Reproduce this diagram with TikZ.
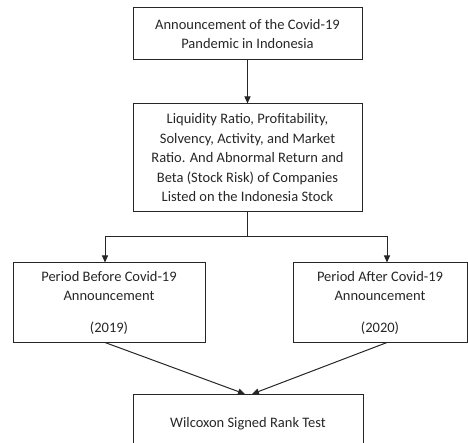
\documentclass[tikz,border=0pt]{standalone}
\usepackage{fontspec}
\setmainfont{Carlito}
\usetikzlibrary{arrows.meta}
\definecolor{ink}{HTML}{262626}
\begin{document}
\begin{tikzpicture}[x=1pt,y=-1pt,
  box/.style={draw=ink, line width=1pt, text=ink, align=center, inner sep=0pt,
    font=\fontsize{14.5}{19.5}\selectfont},
  arr/.style={draw=ink, line width=1pt, -{Triangle[length=7pt,width=6pt]}}]
\useasboundingbox (0,0) rectangle (468,443);
\clip (0,0) rectangle (468,443);
\node[box, minimum width=229pt, minimum height=52pt] (top) at (247.5,34)
  {Announcement of the Covid-19\\Pandemic in Indonesia};
\node[box, minimum width=229pt, minimum height=108pt] (mid) at (247.5,158)
  {Liquidity Ratio, Profitability,\\Solvency, Activity, and Market\\Ratio. And Abnormal Return and\\Beta (Stock Risk) of Companies\\Listed on the Indonesia Stock};
\node[box, minimum width=192pt, minimum height=79pt] (left) at (109,302.5)
  {Period Before Covid-19\\Announcement\\[12pt](2019)};
\node[box, minimum width=174pt, minimum height=79pt] (right) at (380,302.5)
  {Period After Covid-19\\Announcement\\[12pt](2020)};
\node[box, minimum width=230pt, anchor=north, text height=33pt, text depth=40pt] (bot) at (248,394)
  {Wilcoxon Signed Rank Test};
\draw[arr] (top) -- (mid);
\draw[line width=1pt, draw=ink] (mid.south) -- ++(0,24) coordinate (split);
\draw[arr] (split) -| ([xshift=-4pt]left.north);
\draw[arr] (split) -| ([xshift=7pt]right.north);
\draw[arr] ([xshift=-4pt]left.south) -- ([xshift=-3pt]bot.north);
\draw[arr] ([xshift=7pt]right.south) -- ([xshift=4pt]bot.north);
\end{tikzpicture}
\end{document}
